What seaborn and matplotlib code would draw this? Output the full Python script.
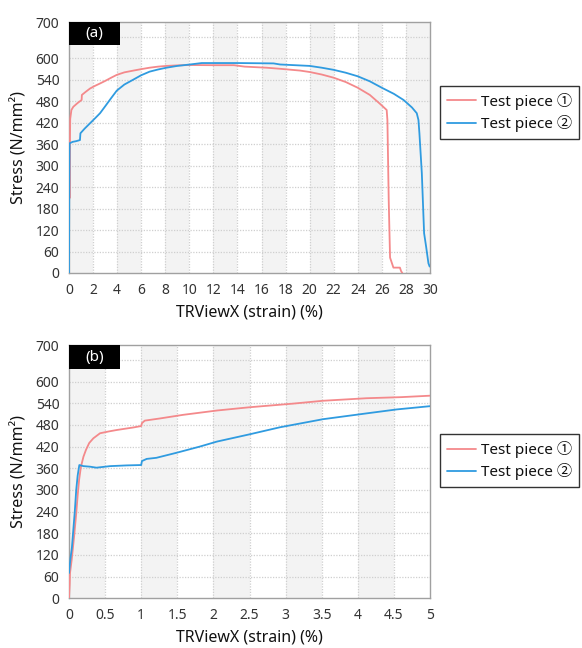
import matplotlib
matplotlib.use("Agg")
import matplotlib.pyplot as plt
from matplotlib.lines import Line2D
from matplotlib.patches import Rectangle
import seaborn as sns
import pandas as pd

# ---------------- data ----------------
series_names = ["Test piece \u2460", "Test piece \u2461"]
colors = ["#f4898b", "#2f9be0"]

# panel (a): full range
a_x1 = [0.08, 0.08, 0.10, 0.20, 0.36, 0.70, 1.05, 1.07, 1.40, 1.75, 2.20, 2.58, 3.00, 3.50, 3.97,
        4.60, 5.36, 6.00, 6.70, 7.40, 8.10, 9.00, 10.06, 12.0, 13.7, 14.6, 16.4, 17.54, 19.2,
        20.0, 21.0, 22.0, 23.0, 24.0, 25.0, 25.85, 26.4,
        26.46, 26.57, 26.68, 26.96, 27.5, 27.6, 27.7]
a_y1 = [210, 371, 430, 455, 464, 474, 483, 497, 506, 515, 523, 529, 536, 545, 553,
        560, 565, 569, 573, 576, 578, 579.5, 580.5, 580, 580, 576, 573, 570, 565,
        561, 554, 545, 533, 517, 497, 472, 455,
        427, 202, 43, 15, 15, 5, 0]
a_x2 = [0.0, 0.02, 0.05, 0.30, 0.60, 0.91, 0.95, 1.30, 1.75, 2.20, 2.58, 3.00, 3.50, 3.97,
        4.60, 5.36, 6.00, 6.70, 7.40, 8.10, 9.00, 10.06, 11.03, 14.0, 17.0, 17.54,
        20.0, 21.0, 22.0, 23.0, 24.0, 25.0, 26.0, 27.0, 27.8, 28.5, 28.9,
        29.04, 29.12, 29.32, 29.51, 29.68, 29.87, 29.97]
a_y2 = [0, 200, 362, 366, 368, 371, 390, 403, 418, 433, 446, 465, 488, 509,
        526, 540, 552, 562, 568, 573, 578, 582, 586, 586, 585, 582,
        578, 573, 567, 559, 549, 535, 517, 500, 483, 462, 446,
        427, 390, 279, 111, 73, 27, 18]

# panel (b): 0-5 %
b_x1 = [0.0, 0.01, 0.014, 0.037, 0.07, 0.10, 0.12, 0.14, 0.165, 0.20, 0.235, 0.28, 0.337, 0.43,
        0.55, 0.66, 0.89, 1.0, 1.01, 1.05, 1.26, 1.58, 2.05, 2.50, 3.10, 3.52, 4.12, 4.60, 5.0]
b_y1 = [0, 40, 70, 106, 170, 235, 285, 328, 364, 392, 411, 430, 443, 457,
        462, 466, 473, 477, 485, 492, 498, 508, 520, 529, 539, 547, 554, 557, 561]
b_x2 = [0.0, 0.02, 0.04, 0.06, 0.08, 0.10, 0.12, 0.143, 0.20, 0.29, 0.38, 0.57, 0.80, 1.0, 1.01,
        1.076, 1.21, 1.49, 1.81, 2.05, 2.50, 2.92, 3.52, 4.12, 4.54, 5.0]
b_y2 = [70, 110, 140, 190, 240, 300, 340, 369, 366, 364.5, 361.7, 366, 368, 369, 380,
        386, 389, 403, 420, 434, 454, 473.5, 496, 512, 523, 532]

y_ticks = [0, 60, 120, 180, 240, 300, 360, 420, 480, 540, 600, 700]
y_grid = [60, 120, 180, 240, 300, 360, 420, 480, 540, 600, 660]
a_xticks = list(range(0, 31, 2))
a_xlabels = [str(v) for v in a_xticks]
b_xticks = [0, 0.5, 1, 1.5, 2, 2.5, 3, 3.5, 4, 4.5, 5]
b_xlabels = ["0", "0.5", "1", "1.5", "2", "2.5", "3", "3.5", "4", "4.5", "5"]
panel_labels = ["(a)", "(b)"]
x_label = "TRViewX (strain) (%)"
y_label = "Stress (N/mm\u00b2)"

# ---------------- style ----------------
sns.set_theme(style="white")
plt.rcParams["font.family"] = ["Noto Sans", "Noto Sans CJK JP", "DejaVu Sans"]

fig = plt.figure(figsize=(5.82, 6.48), dpi=100)
ax_a = fig.add_axes([69 / 582, 1 - 273 / 648, 361 / 582, 250.8 / 648])
ax_b = fig.add_axes([69 / 582, 1 - 598.3 / 648, 361 / 582, 252.8 / 648])


def make_df(x1, y1, x2, y2):
    d1 = pd.DataFrame({"strain": x1, "stress": y1, "series": series_names[0]})
    d2 = pd.DataFrame({"strain": x2, "stress": y2, "series": series_names[1]})
    return pd.concat([d1, d2], ignore_index=True)


def style_axes(ax, xmax, xticks, xlabels, band, label, legend_y):
    ax.set_xlim(0, xmax)
    ax.set_ylim(0, 700)
    # alternating shaded bands
    b = 0.0
    while b < xmax - 1e-9:
        ax.axvspan(b, b + band, color="#f3f3f3", zorder=0, lw=0)
        b += 2 * band
    for gy in y_grid:
        ax.axhline(gy, color="#cfcfcf", lw=0.9, ls=(0, (1, 1.2)), zorder=1)
    for gx in xticks[1:-1]:
        ax.axvline(gx, color="#cfcfcf", lw=0.9, ls=(0, (1, 1.2)), zorder=1)
    ax.set_xticks(xticks)
    ax.set_xticklabels(xlabels)
    ax.set_yticks(y_ticks)
    ax.set_yticklabels([str(v) for v in y_ticks])
    ax.tick_params(axis="both", length=0, labelsize=10, colors="#333333", pad=7)
    for s in ax.spines.values():
        s.set_color("#a0a0a0")
        s.set_linewidth(1.0)
    ax.set_xlabel(x_label, fontsize=11.5, color="#111111", labelpad=5)
    ax.set_ylabel(y_label, fontsize=11.5, color="#111111", labelpad=6)
    # panel label box
    ax.add_patch(Rectangle((0, 0.908), 0.141, 0.092, transform=ax.transAxes,
                           facecolor="black", edgecolor="none", zorder=5, clip_on=False))
    ax.text(0.07, 0.954, label, transform=ax.transAxes, color="white", fontsize=11,
            ha="center", va="center", zorder=6)
    handles = [Line2D([], [], color=c, lw=1.3) for c in colors]
    leg = ax.legend(handles, series_names, loc="upper left", bbox_to_anchor=(1.028, legend_y),
                    borderaxespad=0, frameon=True, fancybox=False, fontsize=11,
                    handlelength=1.9, handletextpad=0.35, borderpad=0.45, labelspacing=0.35)
    leg.get_frame().set_edgecolor("black")
    leg.get_frame().set_linewidth(1.0)
    leg.get_frame().set_facecolor("white")
    for t in leg.get_texts():
        t.set_color("#111111")


df_a = make_df(a_x1, a_y1, a_x2, a_y2)
df_b = make_df(b_x1, b_y1, b_x2, b_y2)

for ax, df in [(ax_a, df_a), (ax_b, df_b)]:
    sns.lineplot(data=df, x="strain", y="stress", hue="series", palette=colors,
                 estimator=None, sort=False, units="series", ax=ax, lw=1.3, legend=False, zorder=3)

style_axes(ax_a, 30, a_xticks, a_xlabels, 2, panel_labels[0], 0.746)
style_axes(ax_b, 5, b_xticks, b_xlabels, 0.5, panel_labels[1], 0.65)

fig.savefig("out.png", dpi=100)
